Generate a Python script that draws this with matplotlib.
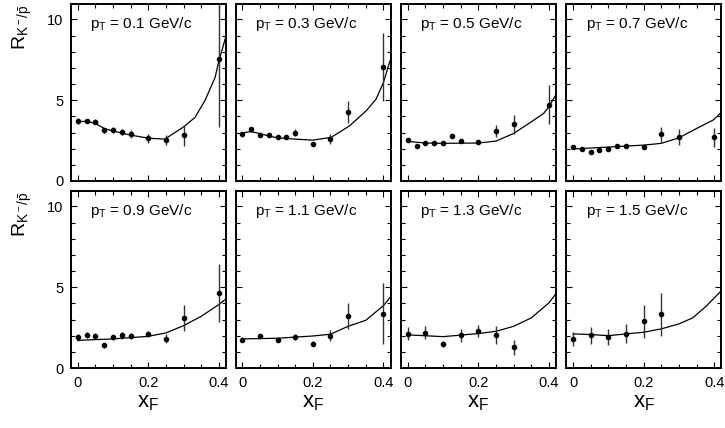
import numpy as np
import matplotlib
matplotlib.use('Agg')
import matplotlib.pyplot as plt
from matplotlib.ticker import MultipleLocator

plt.rcParams['font.family'] = ['Liberation Sans', 'DejaVu Sans']
plt.rcParams['mathtext.fontset'] = 'custom'
plt.rcParams['mathtext.rm'] = 'Liberation Sans'
plt.rcParams['mathtext.it'] = 'Liberation Sans'
plt.rcParams['mathtext.default'] = 'regular'

pt_labels = ['0.1', '0.3', '0.5', '0.7', '0.9', '1.1', '1.3', '1.5']

# measured points (xF, R, error)
xf_01 = [0, 0.025, 0.05, 0.075, 0.1, 0.125, 0.15, 0.2, 0.25, 0.3, 0.4]
r_01 = [3.70, 3.74, 3.68, 3.15, 3.15, 3.02, 2.90, 2.63, 2.53, 2.82, 7.57]
err_01 = [0.17, 0.12, 0.17, 0.15, 0.18, 0.2, 0.25, 0.25, 0.33, 0.66, 4.2]

xf_03 = [0, 0.025, 0.05, 0.075, 0.1, 0.125, 0.15, 0.2, 0.25, 0.3, 0.4]
r_03 = [2.90, 3.19, 2.84, 2.82, 2.70, 2.74, 3.00, 2.28, 2.59, 4.26, 7.04]
err_03 = [0.15, 0.12, 0.12, 0.12, 0.12, 0.12, 0.2, 0.12, 0.3, 0.7, 2.1]

xf_05 = [0, 0.025, 0.05, 0.075, 0.1, 0.125, 0.15, 0.2, 0.25, 0.3, 0.4]
r_05 = [2.55, 2.18, 2.33, 2.33, 2.33, 2.78, 2.47, 2.39, 3.09, 3.5, 4.73]
err_05 = [0.12, 0.1, 0.1, 0.1, 0.1, 0.15, 0.1, 0.1, 0.38, 0.6, 1.23]

xf_07 = [0, 0.025, 0.05, 0.075, 0.1, 0.125, 0.15, 0.2, 0.25, 0.3, 0.4]
r_07 = [2.12, 1.99, 1.79, 1.91, 1.96, 2.18, 2.18, 2.08, 2.88, 2.72, 2.70]
err_07 = [0.12, 0.1, 0.1, 0.1, 0.1, 0.12, 0.12, 0.12, 0.46, 0.48, 0.6]

xf_09 = [0, 0.025, 0.05, 0.075, 0.1, 0.125, 0.15, 0.2, 0.25, 0.3, 0.4]
r_09 = [1.90, 2.05, 2.0, 1.40, 1.90, 2.02, 1.98, 2.11, 1.82, 3.10, 4.65]
err_09 = [0.2, 0.2, 0.18, 0.15, 0.15, 0.2, 0.18, 0.2, 0.3, 0.8, 1.8]

xf_11 = [0, 0.05, 0.1, 0.15, 0.2, 0.25, 0.3, 0.4]
r_11 = [1.74, 1.98, 1.74, 1.90, 1.51, 2.0, 3.24, 3.37]
err_11 = [0.15, 0.15, 0.15, 0.18, 0.15, 0.35, 0.8, 1.86]

xf_13 = [0, 0.05, 0.1, 0.15, 0.2, 0.25, 0.3]
r_13 = [2.13, 2.17, 1.47, 2.02, 2.29, 2.02, 1.28]
err_13 = [0.4, 0.4, 0.2, 0.4, 0.4, 0.55, 0.45]

xf_15 = [0, 0.05, 0.1, 0.15, 0.2, 0.25]
r_15 = [1.82, 2.02, 1.90, 2.13, 2.89, 3.31]
err_15 = [0.43, 0.52, 0.5, 0.6, 1.03, 1.3]

# model curves
cx_01 = [0, 0.025, 0.05, 0.075, 0.1, 0.15, 0.2, 0.247, 0.3, 0.332, 0.36, 0.389, 0.4, 0.42]
cy_01 = [3.66, 3.70, 3.56, 3.25, 3.09, 2.84, 2.65, 2.59, 3.35, 3.93, 4.96, 6.4, 7.43, 8.97]

cx_03 = [0, 0.025, 0.05, 0.075, 0.1, 0.15, 0.2, 0.252, 0.304, 0.351, 0.379, 0.4, 0.417, 0.42]
cy_03 = [2.98, 3.05, 2.94, 2.78, 2.67, 2.59, 2.53, 2.70, 3.41, 4.34, 5.06, 6.09, 7.33, 7.5]

cx_05 = [0, 0.05, 0.1, 0.2, 0.25, 0.3, 0.35, 0.385, 0.4, 0.42]
cy_05 = [2.45, 2.35, 2.33, 2.35, 2.47, 2.94, 3.66, 4.18, 4.6, 5.35]

cx_07 = [0, 0.1, 0.2, 0.25, 0.3, 0.35, 0.397, 0.42]
cy_07 = [1.98, 2.1, 2.22, 2.33, 2.67, 3.25, 3.77, 4.24]

cx_09 = [0, 0.1, 0.2, 0.25, 0.3, 0.35, 0.4, 0.42]
cy_09 = [1.71, 1.8, 1.96, 2.17, 2.62, 3.2, 3.93, 4.28]

cx_11 = [0, 0.1, 0.2, 0.25, 0.3, 0.35, 0.4, 0.42]
cy_11 = [1.80, 1.84, 1.98, 2.09, 2.58, 2.95, 3.86, 4.4]

cx_13 = [0, 0.1, 0.2, 0.25, 0.3, 0.35, 0.4, 0.42]
cy_13 = [2.05, 1.94, 2.13, 2.27, 2.58, 3.1, 4.03, 4.6]

cx_15 = [0, 0.05, 0.1, 0.15, 0.2, 0.25, 0.3, 0.339, 0.377, 0.42]
cy_15 = [2.11, 2.07, 2.0, 2.11, 2.21, 2.42, 2.73, 3.10, 3.82, 4.78]

points = [(xf_01, r_01, err_01), (xf_03, r_03, err_03), (xf_05, r_05, err_05), (xf_07, r_07, err_07),
          (xf_09, r_09, err_09), (xf_11, r_11, err_11), (xf_13, r_13, err_13), (xf_15, r_15, err_15)]
curves = [(cx_01, cy_01), (cx_03, cy_03), (cx_05, cy_05), (cx_07, cy_07),
          (cx_09, cy_09), (cx_11, cy_11), (cx_13, cy_13), (cx_15, cy_15)]

W, H = 725, 428
fig = plt.figure(figsize=(W / 100, H / 100), dpi=100)

col_left = [71, 235.5, 401, 566.3]
row_top = [4, 191]
pw, ph = 155, 177

for i in range(8):
    row, col = divmod(i, 4)
    l, t = col_left[col], row_top[row]
    ax = fig.add_axes([l / W, (H - t - ph) / H, pw / W, ph / H])

    x, y, e = points[i]
    ax.errorbar(x, y, yerr=e, fmt='o', color='black', ecolor='#333333', elinewidth=1.0,
                markersize=3, capsize=0, zorder=3)
    cx, cy = curves[i]
    ax.plot(cx, cy, color='black', lw=0.9, zorder=2)

    ax.set_xlim(-0.019, 0.42)
    ax.set_ylim(0, 10.95)
    ax.xaxis.set_major_locator(MultipleLocator(0.2))
    ax.xaxis.set_minor_locator(MultipleLocator(0.05))
    ax.yaxis.set_major_locator(MultipleLocator(5))
    ax.yaxis.set_minor_locator(MultipleLocator(1))
    ax.tick_params(which='both', direction='in', top=True, right=True, width=0.8,
                   labelsize=10.5, pad=5.5)
    ax.tick_params(which='major', length=4.5)
    ax.tick_params(which='minor', length=2.8)
    for s in ax.spines.values():
        s.set_linewidth(1.4)

    if col != 0:
        ax.set_yticklabels([])
    if row == 0:
        ax.set_xticklabels([])
    else:
        ax.set_xticks([0, 0.2, 0.4])
        ax.set_xticklabels(['0', '0.2', '0.4'])
        ax.set_xlabel('$x_F$', fontsize=16, labelpad=2)

    ax.text(0.125, 0.864, '$p_T$ = ' + pt_labels[i] + ' GeV/c', transform=ax.transAxes,
            fontsize=11, ha='left', va='baseline')

for t in row_top:
    fig.text(22 / W, 1 - (t + 1) / H, r'$R_{K^-/\bar{p}}$', rotation=90, fontsize=14,
             ha='center', va='top')

fig.savefig('out.png', dpi=100)
